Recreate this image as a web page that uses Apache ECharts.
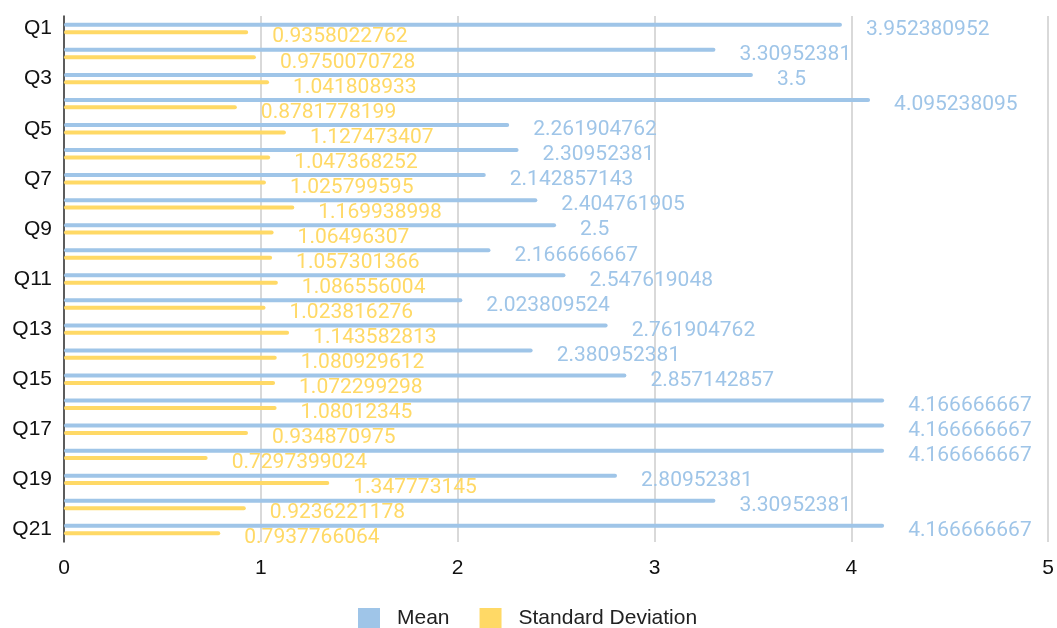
<!DOCTYPE html>
<html><head><meta charset="utf-8">
<script src="https://cdn.jsdelivr.net/npm/echarts@6/dist/echarts.min.js"></script>
<style>html,body{margin:0;padding:0;background:#fff}#c{width:1057px;height:628px}</style>
</head><body><div id="c"></div>
<script>
const categories = ["Q1","Q2","Q3","Q4","Q5","Q6","Q7","Q8","Q9","Q10","Q11","Q12","Q13","Q14","Q15","Q16","Q17","Q18","Q19","Q20","Q21"];
const meanValues = [3.952380952, 3.30952381, 3.5, 4.095238095, 2.261904762, 2.30952381, 2.142857143, 2.404761905, 2.5, 2.166666667, 2.547619048, 2.023809524, 2.761904762, 2.380952381, 2.857142857, 4.166666667, 4.166666667, 4.166666667, 2.80952381, 3.30952381, 4.166666667];
const sdValues = [0.9358022762, 0.9750070728, 1.041808933, 0.8781778199, 1.127473407, 1.047368252, 1.025799595, 1.169938998, 1.06496307, 1.057301366, 1.086556004, 1.023816276, 1.143582813, 1.080929612, 1.072299298, 1.08012345, 0.934870975, 0.7297399024, 1.347773145, 0.9236221178, 0.7937766064];
const seriesNames = ["Mean", "Standard Deviation"];
const colors = ["#9fc5e8", "#ffd966"];

const chart = echarts.init(document.getElementById('c'));
const font = 'Roboto, sans-serif';
const axisFont = '"Liberation Sans", Arial, sans-serif';
function mk(name, data, color) {
  return {
    name: name, type: 'bar', data: data, barWidth: 4, barGap: '85%',
    itemStyle: { color: color, borderRadius: 2 },
    label: { show: true, position: 'right', distance: 24, offset: [0, 5], color: color,
      fontFamily: font, fontSize: 21, formatter: p => String(p.value) }
  };
}
chart.setOption({
  animation: false,
  textStyle: { fontFamily: font },
  grid: { left: 64, right: 7, top: 16, bottom: 86, containLabel: false },
  legend: { left: 353, bottom: -6, itemWidth: 22, itemHeight: 21, itemGap: 30,
    icon: 'rect', textStyle: { fontSize: 21, color: '#222', fontFamily: axisFont, padding: [0, 0, 0, 12] } },
  xAxis: { type: 'value', min: 0, max: 5, interval: 1,
    axisLine: { show: false }, axisTick: { show: false },
    splitLine: { lineStyle: { color: '#cccccc', width: 1.5 } },
    axisLabel: { color: '#111', fontSize: 21, margin: 16, fontFamily: axisFont } },
  yAxis: { type: 'category', data: categories, inverse: true,
    axisLine: { lineStyle: { color: '#333', width: 1.5 } }, axisTick: { show: false },
    axisLabel: { interval: 1, color: '#111', fontSize: 21, margin: 12, fontFamily: axisFont } },
  series: [mk(seriesNames[0], meanValues, colors[0]), mk(seriesNames[1], sdValues, colors[1])]
});
</script></body></html>
